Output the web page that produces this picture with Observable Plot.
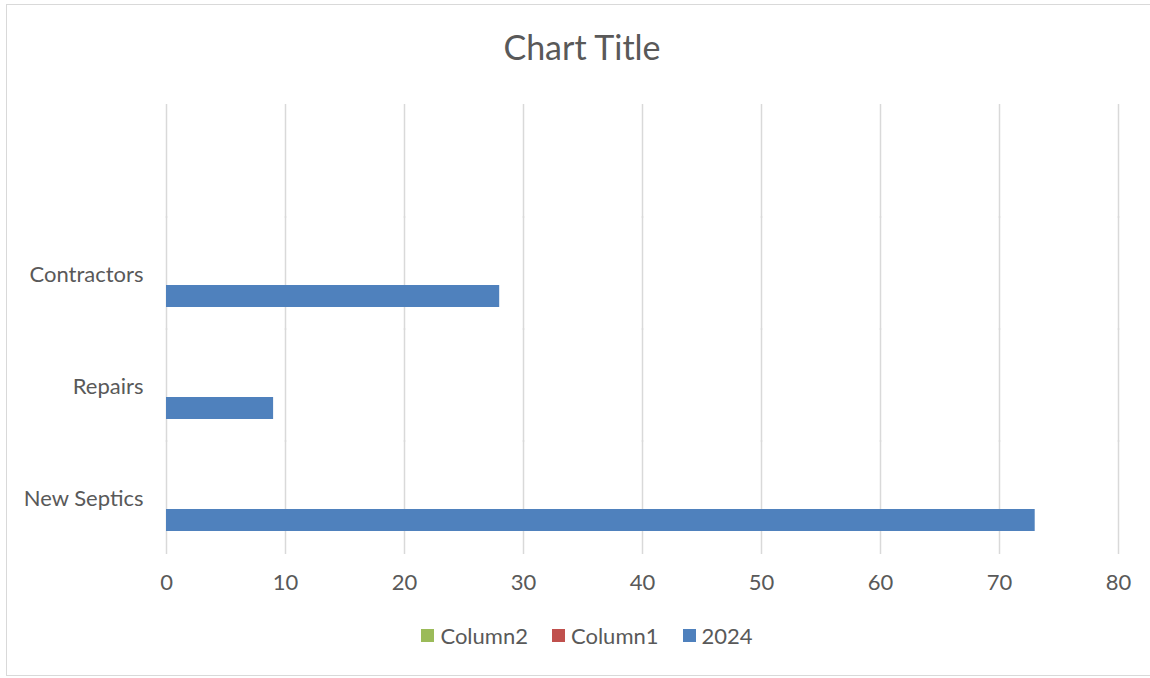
<!DOCTYPE html>
<html>
<head>
<meta charset="utf-8">
<script src="https://cdn.jsdelivr.net/npm/d3@7"></script>
<script src="https://cdn.jsdelivr.net/npm/@observablehq/plot@0.6"></script>
<style>
  html, body { margin: 0; padding: 0; background: #fff; }
  body { width: 1150px; height: 678px; overflow: hidden; font-family: Lato, "Open Sans", sans-serif; }
  #wrap { position: relative; width: 1150px; height: 678px; overflow: hidden; }
  #border { position: absolute; left: 6px; top: 4px; width: 1150px; height: 672px; border: 1.5px solid #d9d9d9; box-sizing: border-box; }
  #title { position: absolute; left: 0; width: 1164px; top: 26px; text-align: center; font-size: 34px; color: #595959; }
  #chart { position: absolute; left: 0; top: 0; }
  #legend { position: absolute; left: 0; width: 1174px; top: 622px; display: flex; justify-content: center; gap: 24px; font-size: 22px; color: #595959; }
  #legend .item { display: flex; align-items: center; gap: 6px; }
  #legend .sw { width: 13px; height: 13px; display: inline-block; }
</style>
</head>
<body>
<div id="wrap">
  <div id="border"></div>
  <div id="title">Chart Title</div>
  <div id="chart"></div>
  <div id="legend"></div>
</div>
<script>
// Data (top category "" is the empty row in the source table)
const categories = ["", "Contractors", "Repairs", "New Septics"]; // top to bottom
const series = ["Column2", "Column1", "2024"];                 // top to bottom within a group
const values2024 = [null, 28, 9, 73];
const valuesColumn1 = [null, null, null, null];
const valuesColumn2 = [null, null, null, null];
const xTicks = [0, 10, 20, 30, 40, 50, 60, 70, 80];
const colors = ["#9bbb59", "#c0504d", "#4f81bd"];
const legendOrder = ["Column2", "Column1", "2024"];

const seriesValues = {"2024": values2024, "Column1": valuesColumn1, "Column2": valuesColumn2};
const data = [];
for (const s of series) {
  categories.forEach((c, i) => data.push({category: c, series: s, value: seriesValues[s][i]}));
}

const chart = Plot.plot({
  width: 1150,
  height: 610,
  marginLeft: 166,
  marginRight: 32,
  marginTop: 105,
  marginBottom: 56,
  style: {fontFamily: "Lato, 'Open Sans', sans-serif", fontSize: "22px", color: "#595959", background: "transparent"},
  x: {domain: [0, 80], ticks: xTicks, tickSize: 0, tickPadding: 20, label: null},
  fy: {domain: categories, padding: 0, label: null, tickSize: 0, tickPadding: 23},
  y: {domain: series, paddingInner: 0, paddingOuter: 1, axis: null},
  color: {domain: series, range: colors},
  marks: [
    Plot.gridX(xTicks, {stroke: "#d9d9d9", strokeOpacity: 1, strokeWidth: 1.5, insetTop: -2}),
    Plot.barX(data, {x: "value", y: "series", fy: "category", fill: "series"})
  ]
});
document.getElementById("chart").appendChild(chart);

const legend = document.getElementById("legend");
legendOrder.forEach(s => {
  const item = document.createElement("div");
  item.className = "item";
  const sw = document.createElement("span");
  sw.className = "sw";
  sw.style.background = colors[series.indexOf(s)];
  const t = document.createElement("span");
  t.textContent = s;
  item.appendChild(sw);
  item.appendChild(t);
  legend.appendChild(item);
});
</script>
</body>
</html>
